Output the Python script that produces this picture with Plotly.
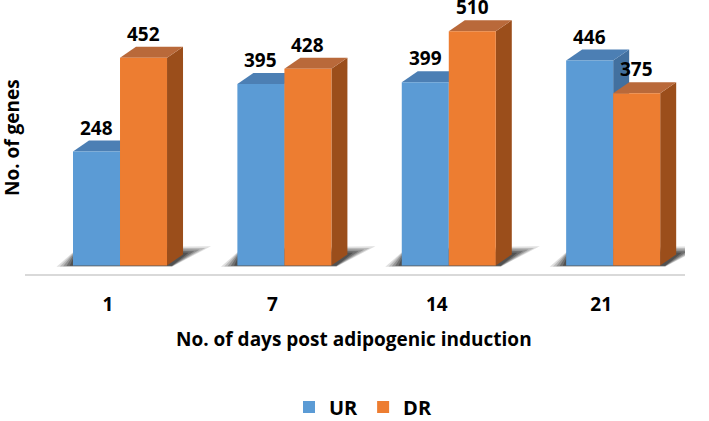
import plotly.graph_objects as go

days = ["1", "7", "14", "21"]
series_names = ["UR", "DR"]
ur_values = [248, 395, 399, 446]
dr_values = [452, 428, 510, 375]

front_colors = ["#5b9bd5", "#ed7d31"]
top_colors = ["#4c7fb4", "#b9693a"]
side_colors = ["#42709f", "#9b4e1b"]

FONT = "Open Sans"
W, H = 709, 421
ML, MR, MT, MB = 25, 24, 5, 147
x_range = [-0.505, 3.51]
y_range = [-18.5, 567]
PW, PH = W - ML - MR, H - MT - MB
px_per_x = PW / (x_range[1] - x_range[0])
px_per_y = PH / (y_range[1] - y_range[0])

def paper_x(px):
    return (px - ML) / PW

def paper_y(py):
    return (H - MB - py) / PH

bar_w = 0.286
offsets = [-0.213, 0.073]
dx = 16 / px_per_x
dy = 11 / px_per_y

xs = list(range(len(days)))
fig = go.Figure()
shapes = []
annotations = []

def poly(pts):
    return "M " + " L ".join(f"{a:.5f},{b:.5f}" for a, b in pts) + " Z"

for s, vals in enumerate([ur_values, dr_values]):
    fig.add_trace(go.Bar(
        x=xs, y=vals, name=series_names[s], width=bar_w, offset=offsets[s],
        marker=dict(color=front_colors[s], line=dict(width=0)),
        hoverinfo="skip",
    ))

# soft shadows under each group (layered for a blur look)
for i in xs:
    xl = i + offsets[0]
    xr = i + offsets[1] + bar_w
    for grow, alpha in [(1.0, 0.14), (0.8, 0.18), (0.6, 0.24), (0.4, 0.3), (0.2, 0.35)]:
        pts = [
            (xl - 0.1 * grow, -2.5 * grow),
            (xl + 0.03, dy + 14),
            (xr + dx + 0.17 * grow, dy + 18 * grow),
            (xr + 0.03, -2.5 * grow),
        ]
        shapes.append(dict(type="path", path=poly(pts), xref="x", yref="y",
                           fillcolor=f"rgba(25,25,25,{alpha})", line=dict(width=0), layer="below"))

for i in xs:
    for s, vals in enumerate([ur_values, dr_values]):
        v = vals[i]
        xl = i + offsets[s]
        xr = xl + bar_w
        side = [(xr, 0), (xr, v), (xr + dx, v + dy), (xr + dx, dy)]
        top = [(xl, v), (xl + dx, v + dy), (xr + dx, v + dy), (xr, v)]
        shapes.append(dict(type="path", path=poly(side), xref="x", yref="y",
                           fillcolor=side_colors[s], line=dict(width=0), layer="below"))
        shapes.append(dict(type="path", path=poly(top), xref="x", yref="y",
                           fillcolor=top_colors[s], line=dict(width=0), layer="below"))
        annotations.append(dict(x=xl + bar_w / 2, y=v, xref="x", yref="y", text=str(v),
                                showarrow=False, yanchor="bottom", yshift=9,
                                font=dict(family=FONT, size=19, color="#000000", weight="bold")))

annotations.append(dict(x=paper_x(354), y=paper_y(339),
                        xref="paper", yref="paper", text="No. of days post adipogenic induction",
                        showarrow=False, xanchor="center", yanchor="middle",
                        font=dict(family=FONT, size=19, color="#000000", weight="bold")))
annotations.append(dict(x=paper_x(12), y=paper_y(138),
                        xref="paper", yref="paper", text="No. of genes", textangle=-90,
                        showarrow=False, xanchor="center", yanchor="middle",
                        font=dict(family=FONT, size=19, color="#000000", weight="bold")))

fig.update_layout(
    width=W, height=H,
    margin=dict(l=ML, r=MR, t=MT, b=MB, autoexpand=False),
    paper_bgcolor="white", plot_bgcolor="white",
    barmode="overlay",
    shapes=shapes, annotations=annotations,
    showlegend=True,
    legend=dict(orientation="h", x=paper_x(363), xanchor="center",
                y=paper_y(407), yanchor="middle",
                font=dict(family=FONT, size=20, color="#000000", weight="bold"),
                itemwidth=30, tracegroupgap=0),
    xaxis=dict(range=x_range, tickmode="array", tickvals=xs, ticktext=days,
               showgrid=False, zeroline=False, showline=True, linecolor="#d9d9d9", linewidth=2,
               ticks="outside", ticklen=12, tickcolor="rgba(0,0,0,0)",
               tickfont=dict(family=FONT, size=19, color="#000000", weight="bold"),
               fixedrange=True, automargin=False),
    yaxis=dict(range=y_range, showgrid=False, zeroline=False, showticklabels=False,
               showline=False, fixedrange=True, automargin=False),
)

fig.write_html("out.html", config={"displayModeBar": False},
               post_script="document.body.style.margin='0';")
